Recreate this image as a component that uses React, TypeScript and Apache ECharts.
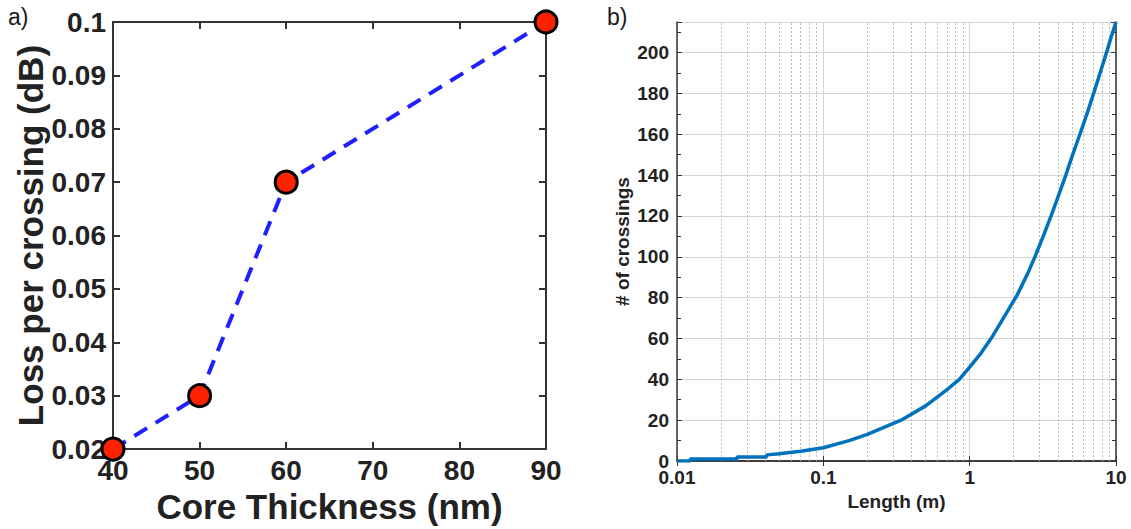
import React, { useEffect, useRef } from "react";
import * as echarts from "echarts";

// Panel a)
const thickness = [40, 50, 60, 90];
const lossPerCrossing = [0.02, 0.03, 0.07, 0.1];

// Panel b)
const lengthM = [0.01, 0.0123, 0.0123, 0.0257, 0.0257, 0.041, 0.041, 0.05, 0.07, 0.1, 0.15, 0.2, 0.34, 0.5, 0.7, 0.85, 1, 1.2, 1.43, 1.7, 2.1, 2.5, 2.83, 3.2, 3.6, 4, 4.49, 5, 5.73, 6.4, 7.1, 7.9, 8.7, 9.3, 10];
const crossings = [0, 0, 1, 1, 2, 2, 3, 3.5, 4.8, 6.5, 10, 13, 20, 27, 35, 40, 46, 53, 61, 70, 81, 92, 101, 110.5, 120, 129, 139, 149, 161, 171, 181, 191.5, 201, 208, 215];
const minorGridX = [0.02, 0.03, 0.04, 0.05, 0.06, 0.07, 0.08, 0.09, 0.2, 0.3, 0.4, 0.5, 0.6, 0.7, 0.8, 0.9, 2, 3, 4, 5, 6, 7, 8, 9];

const FONT = "Liberation Sans, Arial, Helvetica, sans-serif";
const TXT = "#222";
const AX = "#333";

export default function App() {
  const ref = useRef<HTMLDivElement>(null);
  useEffect(() => {
    const chart = echarts.init(ref.current!, null, { renderer: "svg" });
    const axA = { lineStyle: { color: AX, width: 2 } };
    const axB = { lineStyle: { color: AX, width: 1.5 } };
    chart.setOption({
      animation: false,
      backgroundColor: "#fff",
      textStyle: { fontFamily: FONT },
      graphic: [
        { type: "text", left: 8, top: 5, style: { text: "a)", fontSize: 23, fill: "#1a1a1a", fontFamily: FONT } },
        { type: "text", left: 607, top: 5, style: { text: "b)", fontSize: 23, fill: "#1a1a1a", fontFamily: FONT } },
      ],
      grid: [
        { left: 113, top: 22, width: 433, height: 433 },
        { left: 677, top: 22, width: 439, height: 439 },
      ],
      xAxis: [
        {
          gridIndex: 0, type: "value", min: 40, max: 90, interval: 10, position: "bottom",
          name: "Core Thickness (nm)", nameLocation: "middle", nameGap: 35,
          nameTextStyle: { fontSize: 35, fontWeight: "bold", color: TXT, fontFamily: FONT },
          axisLine: { show: true, ...axA }, axisTick: { show: true, inside: true, length: 7, lineStyle: { color: AX, width: 2 } },
          axisLabel: { fontSize: 28, fontWeight: "bold", color: TXT, margin: 7, fontFamily: FONT },
          splitLine: { show: false },
        },
        {
          gridIndex: 0, type: "value", min: 40, max: 90, interval: 10, position: "top",
          axisLine: { show: true, ...axA }, axisTick: { show: true, inside: true, length: 7, lineStyle: { color: AX, width: 2 } },
          axisLabel: { show: false }, splitLine: { show: false },
        },
        {
          gridIndex: 1, type: "log", logBase: 10, min: 0.01, max: 10, position: "bottom",
          name: "Length (m)", nameLocation: "middle", nameGap: 26,
          nameTextStyle: { fontSize: 19, fontWeight: "bold", color: TXT, fontFamily: FONT },
          axisLine: { show: true, ...axB }, axisTick: { show: true, inside: true, length: 5, lineStyle: { color: AX } },
          axisLabel: { fontSize: 19, fontWeight: "bold", color: TXT, margin: 7, fontFamily: FONT },
          splitLine: { show: true, lineStyle: { color: "#d4d4d4", width: 1 } },
        },
        {
          gridIndex: 1, type: "log", logBase: 10, min: 0.01, max: 10, position: "top",
          axisLine: { show: true, ...axB }, axisTick: { show: true, inside: true, length: 5, lineStyle: { color: AX } },
          axisLabel: { show: false }, splitLine: { show: false },
        },
      ],
      yAxis: [
        {
          gridIndex: 0, type: "value", min: 0.02, max: 0.1, interval: 0.01, position: "left",
          name: "Loss per crossing (dB)", nameLocation: "middle", nameGap: 62, nameRotate: 90,
          nameTextStyle: { fontSize: 35, fontWeight: "bold", color: TXT, fontFamily: FONT },
          axisLine: { show: true, ...axA }, axisTick: { show: true, inside: true, length: 7, lineStyle: { color: AX, width: 2 } },
          axisLabel: { fontSize: 28, fontWeight: "bold", color: TXT, margin: 7, fontFamily: FONT, formatter: (v: number) => String(+v.toFixed(2)) },
          splitLine: { show: false },
        },
        {
          gridIndex: 0, type: "value", min: 0.02, max: 0.1, interval: 0.01, position: "right",
          axisLine: { show: true, ...axA }, axisTick: { show: true, inside: true, length: 7, lineStyle: { color: AX, width: 2 } },
          axisLabel: { show: false }, splitLine: { show: false },
        },
        {
          gridIndex: 1, type: "value", min: 0, max: 215, interval: 20, position: "left",
          name: "# of crossings", nameLocation: "middle", nameGap: 45, nameRotate: 90,
          nameTextStyle: { fontSize: 19, fontWeight: "bold", color: TXT, fontFamily: FONT },
          axisLine: { show: true, ...axB }, axisTick: { show: true, inside: true, length: 5, lineStyle: { color: AX } },
          minorTick: { show: true, splitNumber: 2, length: 4, lineStyle: { color: AX } },
          axisLabel: { fontSize: 19, fontWeight: "bold", color: TXT, margin: 8, fontFamily: FONT, showMaxLabel: false },
          splitLine: { show: true, lineStyle: { color: "#d4d4d4", width: 1 } },
        },
        {
          gridIndex: 1, type: "value", min: 0, max: 215, interval: 20, position: "right",
          axisLine: { show: true, ...axB }, axisTick: { show: true, inside: true, length: 5, lineStyle: { color: AX } },
          minorTick: { show: true, splitNumber: 2, length: 4, lineStyle: { color: AX } },
          axisLabel: { show: false }, splitLine: { show: false },
        },
      ],
      series: [
        {
          type: "line", xAxisIndex: 0, yAxisIndex: 0,
          data: thickness.map((t, i) => [t, lossPerCrossing[i]]),
          symbol: "circle", symbolSize: 22, showAllSymbol: true,
          lineStyle: { color: "#1f1fff", width: 4, type: [15, 10] },
          itemStyle: { color: "#ff2200", borderColor: "#000", borderWidth: 3 },
          z: 5,
        },
        {
          type: "line", xAxisIndex: 2, yAxisIndex: 2,
          data: lengthM.map((l, i) => [l, crossings[i]]),
          showSymbol: false, symbol: "none",
          lineStyle: { color: "#0072BD", width: 3.5 },
          markLine: {
            silent: true, symbol: "none", label: { show: false },
            lineStyle: { color: "#bdbdbd", width: 1, type: [2, 2] },
            data: minorGridX.map((x) => ({ xAxis: x })),
          },
          z: 5,
        },
      ],
    });
    return () => chart.dispose();
  }, []);
  return <div ref={ref} style={{ position: "absolute", left: 0, top: 0, width: 1131, height: 529 }} />;
}
